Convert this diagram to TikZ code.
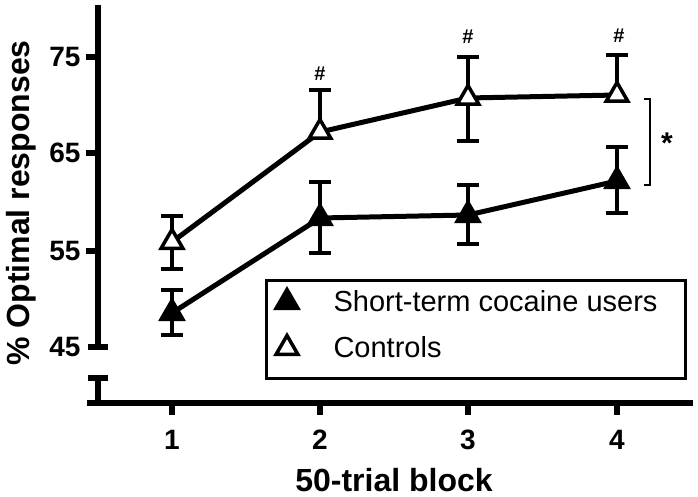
\documentclass[tikz,border=0pt]{standalone}
\usepackage{fontspec}
\setmainfont{Liberation Sans}
\usetikzlibrary{shapes.geometric}

\tikzset{
  axis/.style={line width=5.5pt},
  errbar/.style={line width=3.5pt},
  dataline/.style={line width=5pt, line join=round},
  marker/.style={regular polygon, regular polygon sides=3, minimum size=25pt,
    inner sep=0pt, line width=3.5pt, draw=black},
  userpt/.style={marker, fill=black},
  ctrlpt/.style={marker, fill=white},
  ticklabel/.style={font=\fontsize{28}{30}\selectfont\bfseries},
  axislabel/.style={font=\fontsize{32}{34}\selectfont\bfseries, inner sep=0pt},
  legendtext/.style={font=\fontsize{29}{31}\selectfont, anchor=west},
  sig/.style={font=\fontsize{20}{22}\selectfont\bfseries}
}

\begin{document}
\begin{tikzpicture}[x=1pt, y=-1pt]
  \useasboundingbox (0,0) rectangle (698,497);

  % axes with the break
  \draw [axis] (98,5) -- (98,347);
  \draw [axis] (88,347) -- (108,347);
  \draw [axis] (88,378) -- (108,378);
  \draw [axis] (98,378) -- (98,403);
  \draw [axis] (87,403) -- (693,403);
  \foreach \y/\v in {57/75, 153/65, 251/55}
    \draw [axis] (86,\y) -- (98,\y);
  \foreach \y/\v in {57/75, 153/65, 251/55, 347/45}
    \node [ticklabel, anchor=east] (ylab\v) at (84,\y) {\v};
  \foreach \x/\n in {172/1, 320/2, 468/3, 617/4} {
    \draw [axis] (\x,403) -- (\x,415);
    \node [ticklabel] (xlab\n) at (\x,440) {\n};
  }
  \node [axislabel, anchor=base] (xtitle) at (394,491) {50-trial block};
  \node [axislabel, rotate=90] (ytitle) at (21,203) {\% Optimal responses};

  % data points
  \coordinate (c1) at (172,242);
  \coordinate (c2) at (320,132);
  \coordinate (c3) at (468,98);
  \coordinate (c4) at (617,95);
  \coordinate (u1) at (172,313);
  \coordinate (u2) at (320,218);
  \coordinate (u3) at (468,215);
  \coordinate (u4) at (617,181);

  % error bars
  \foreach \x/\m/\e in {172/242/216, 320/132/90, 468/98/57, 617/95/55,
      172/242/269, 468/98/141,
      172/313/290, 320/218/182, 468/215/185, 617/181/147,
      172/313/335, 320/218/253, 468/215/244, 617/181/213}
    \draw [errbar] (\x,\m) -- (\x,\e) (\x-11,\e) -- (\x+11,\e);

  \draw [dataline] (c1) -- (c2) -- (c3) -- (c4);
  \draw [dataline] (u1) -- (u2) -- (u3) -- (u4);
  \foreach \i in {1,...,4} {
    \node [ctrlpt] (cm\i) at (c\i) {};
    \node [userpt] (um\i) at (u\i) {};
  }

  % significance marks
  \node [sig] (hash2) at (320,74) {\#};
  \node [sig] (hash3) at (468,37) {\#};
  \node [sig] (hash4) at (619,36) {\#};
  \draw [line width=1.5pt] (644,99) -- (650,99) -- (650,185) -- (644,185);
  \node [font=\fontsize{30}{32}\selectfont\bfseries, anchor=base] (star) at (667,154) {*};

  % legend
  \draw [line width=3pt] (266,280) rectangle (685,378);
  \node [userpt] (legu) at (287,302) {};
  \node [ctrlpt] (legc) at (287,348) {};
  \node [legendtext] (legutext) at (330,301) {Short-term cocaine users};
  \node [legendtext] (legctext) at (330,347) {Controls};
\end{tikzpicture}
\end{document}
